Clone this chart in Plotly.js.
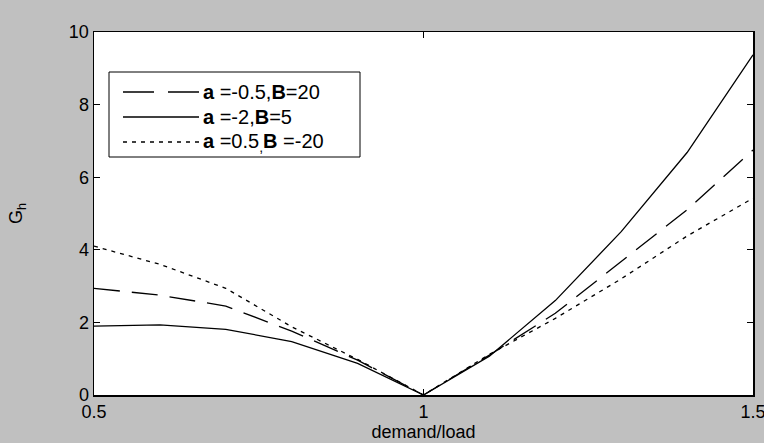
<!DOCTYPE html>
<html>
<head>
<meta charset="utf-8">
<script src="https://cdn.plot.ly/plotly-3.0.1.min.js"></script>
<style>
html,body{margin:0;padding:0;background:#c0c0c0;}
#chart{width:764px;height:443px;}
</style>
</head>
<body>
<div id="chart"></div>
<script>
// demand/load ratio
const demandLoad = [0.5, 0.6, 0.7, 0.8, 0.9, 1.0, 1.1, 1.2, 1.3, 1.4, 1.5];
// G_h for the three parameter sets
const ghDashed = [2.94, 2.75, 2.45, 1.76, 0.96, 0, 1.10, 2.25, 3.68, 5.10, 6.75]; // a=-0.5, B=20
const ghSolid  = [1.90, 1.93, 1.81, 1.47, 0.87, 0, 1.07, 2.60, 4.50, 6.68, 9.37]; // a=-2, B=5
const ghDotted = [4.10, 3.60, 2.94, 1.88, 0.98, 0, 1.12, 2.11, 3.20, 4.38, 5.42]; // a=0.5, B=-20

const names = [
  "<b>a</b> =-0.5,<b>B</b>=20",
  "<b>a</b> =-2,<b>B</b>=5",
  "<b>a</b> =0.5<sub>,</sub><b>B</b> =-20"
];
const xTicks = [0.5, 1, 1.5];
const xTickText = ["0.5", "1", "1.5"];
const yTicks = [0, 2, 4, 6, 8, 10];

const font = "Liberation Sans, Arial, sans-serif";
const dashes = ["26px,12px", "solid", "4px,5px"];
const legendDashes = ["31px,14px", "solid", "4px,5px"];

const W = 764, H = 443;
const M = {l: 94, r: 11, t: 32, b: 48};
const pw = W - M.l - M.r, ph = H - M.t - M.b;
const px = v => (v - M.l) / pw;        // pixel -> paper x
const py = v => (H - M.b - v) / ph;    // pixel -> paper y

const traces = [ghDashed, ghSolid, ghDotted].map((ys, i) => ({
  x: demandLoad, y: ys, name: names[i], mode: "lines",
  line: {color: "#000", width: 1.3, dash: dashes[i]},
  showlegend: false
}));

// hand-drawn legend box (MATLAB style)
const legendRows = [92, 117, 142];
const shapes = [{
  type: "rect", xref: "paper", yref: "paper",
  x0: px(109), x1: px(360), y0: py(157), y1: py(72),
  line: {color: "#000", width: 1}, fillcolor: "#fff", layer: "above"
}];
const annotations = [];
legendRows.forEach((r, i) => {
  shapes.push({
    type: "line", xref: "paper", yref: "paper",
    x0: px(123), x1: px(199), y0: py(r), y1: py(r),
    line: {color: "#000", width: 1.3, dash: legendDashes[i]}, layer: "above"
  });
  annotations.push({
    xref: "paper", yref: "paper", x: px(201), y: py(r),
    xanchor: "left", yanchor: "middle", showarrow: false,
    text: names[i], font: {family: font, size: 20, color: "#000"}
  });
});

const layout = {
  width: W, height: H,
  paper_bgcolor: "#c0c0c0",
  plot_bgcolor: "#ffffff",
  margin: {l: M.l, r: M.r, t: M.t, b: M.b, pad: 0},
  font: {family: font, size: 18, color: "#000"},
  showlegend: false,
  shapes: shapes,
  annotations: annotations,
  xaxis: {
    range: [0.5, 1.5], tickvals: xTicks, ticktext: xTickText,
    ticks: "inside", ticklen: 6, tickwidth: 1, tickcolor: "#000",
    showline: true, linecolor: "#000", linewidth: 1.5, mirror: "ticks",
    showgrid: false, zeroline: false, fixedrange: true,
    ticklabeloverflow: "allow",
    tickfont: {family: font, size: 18, color: "#000"},
    title: {text: "demand/load", standoff: 4, font: {family: font, size: 18, color: "#000"}}
  },
  yaxis: {
    range: [0, 10], tickvals: yTicks,
    ticks: "inside", ticklen: 6, tickwidth: 1, tickcolor: "#000",
    showline: true, linecolor: "#000", linewidth: 1.5, mirror: "ticks",
    showgrid: false, zeroline: false, fixedrange: true,
    ticklabeloverflow: "allow",
    tickfont: {family: font, size: 18, color: "#000"},
    title: {text: "G<sub>h</sub>", standoff: 41, font: {family: font, size: 18, color: "#000"}}
  }
};

Plotly.newPlot("chart", traces, layout, {displayModeBar: false, staticPlot: true});
</script>
</body>
</html>
